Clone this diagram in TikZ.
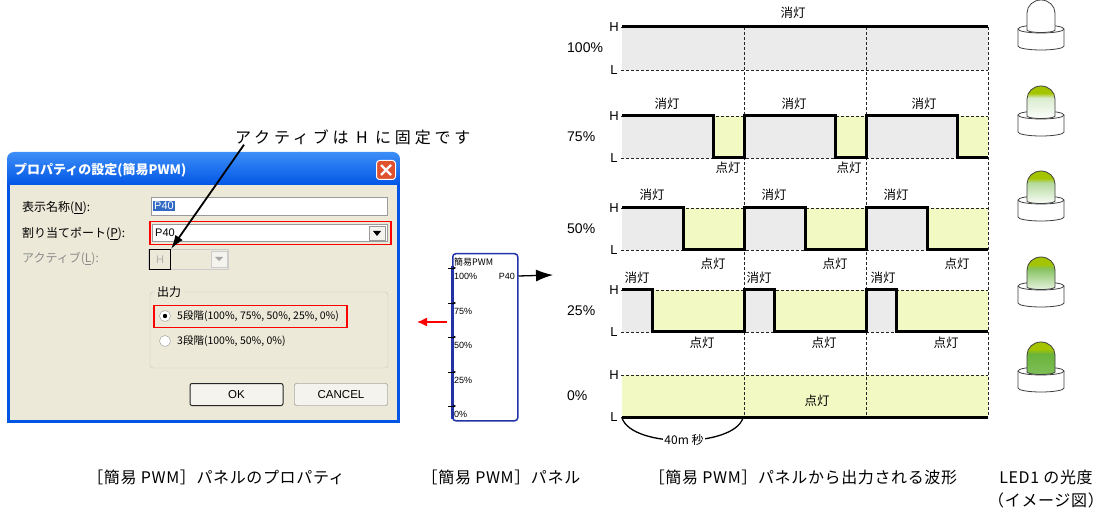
\documentclass[tikz,border=0pt]{standalone}
\usepackage{fontspec}
\setmainfont{Noto Sans CJK JP}
\newfontfamily\lat{Liberation Sans}
\usetikzlibrary{arrows.meta}

\definecolor{xpframe}{HTML}{0055E5}
\definecolor{xptop}{HTML}{3D8EF7}
\definecolor{xpbeige}{HTML}{ECE9D8}
\definecolor{xpred}{HTML}{E0522E}
\definecolor{fieldgrey}{HTML}{9A9A9A}
\definecolor{selblue}{HTML}{316AC5}
\definecolor{groupgrey}{HTML}{C8C6B4}
\definecolor{btnface}{HTML}{F4F3EE}
\definecolor{panelblue}{HTML}{2233A8}
\definecolor{offgrey}{HTML}{EBEBEB}
\definecolor{onyellow}{HTML}{F3F9C3}
\definecolor{capgreen}{HTML}{A4C400}
\definecolor{ledgreen}{HTML}{6AB43C}
\definecolor{ledline}{HTML}{404040}

\tikzset{
  dlg/.style={anchor=west, inner sep=0pt, font=\fontsize{12}{14}\selectfont},
  field/.style={draw=fieldgrey, fill=white, inner sep=0pt, anchor=north west},
  dlgbtn/.style={draw=black!55, fill=btnface, rounded corners=2pt, minimum width=93pt,
    minimum height=22pt, inner sep=0pt, font=\lat\fontsize{11.5}{12}\selectfont},
  pinlbl/.style={anchor=west, inner sep=0pt, font=\lat\fontsize{9}{10}\selectfont},
  pinmark/.style={-{Stealth[length=3pt,width=3pt]}, line width=0.8pt},
  hl/.style={inner sep=0pt, font=\lat\fontsize{13}{14}\selectfont},
  pct/.style={anchor=west, inner sep=0pt, font=\lat\fontsize{14}{16}\selectfont},
  wl/.style={inner sep=0pt, font=\fontsize{12.5}{14}\selectfont},
  guide/.style={line width=0.8pt, black!85, dash pattern=on 3pt off 2pt},
  wave/.style={line width=3pt, miter limit=4},
  captext/.style={inner sep=0pt, font=\fontsize{16}{18}\selectfont\addfontfeature{LetterSpace=4}},
}

% one LED lamp: top offset, cap colour, upper body colour, lower body colour
\newcommand\ledlamp[4]{%
  \begin{scope}[shift={(0,#1)}]
    \path[draw=ledline, fill=white, line width=0.8pt] (1018,29) -- (1018,46)
      arc[start angle=180, end angle=360, x radius=23pt, y radius=4pt] -- (1064,29)
      arc[start angle=0, end angle=180, x radius=23pt, y radius=4pt] -- cycle;
    \draw[ledline, line width=0.8pt] (1018,29)
      arc[start angle=180, end angle=360, x radius=23pt, y radius=4pt];
    \begin{scope}
      \clip (1027,30) -- (1027,13)
        arc[start angle=180, end angle=0, x radius=14pt, y radius=13pt] -- (1055,30)
        arc[start angle=360, end angle=180, x radius=14pt, y radius=2.5pt] -- cycle;
      \fill[white] (1020,-2) rectangle (1062,36);
      \shade[top color=#3, bottom color=#4] (1020,12) rectangle (1062,34);
      \shade[top color=#2, bottom color=#3] (1020,7) rectangle (1062,12);
      \fill[#2] (1020,-2) rectangle (1062,7);
    \end{scope}
    \draw[ledline, line width=0.8pt] (1027,30) -- (1027,13)
      arc[start angle=180, end angle=0, x radius=14pt, y radius=13pt] -- (1055,30)
      arc[start angle=360, end angle=180, x radius=14pt, y radius=2.5pt] -- cycle;
  \end{scope}}

\begin{document}
\begin{tikzpicture}[x=1pt,y=-1pt]
\useasboundingbox[fill=white] (0,0) rectangle (1104,513);

% ===== property dialog =====
\begin{scope}
  \clip[rounded corners=7pt] (7,152) rectangle (400,200);
  \shade[top color=xptop, bottom color=xpframe] (7,152) rectangle (400,186);
\end{scope}
\fill[xpframe] (7,185) rectangle (400,423);
\fill[xpbeige] (10,185) rectangle (397,420);

\node[anchor=west, inner sep=0pt, text=white, font=\bfseries\fontsize{13}{15}\selectfont]
  (dlgtitle) at (14,170) {プロパティの設定(簡易PWM)};
\node[draw=white, line width=1pt, fill=xpred, rounded corners=3pt, minimum width=19pt,
  minimum height=19pt, inner sep=0pt] (closebtn) at (386,170) {};
\draw[white, line width=2.2pt] (381,165) -- (391,175) (391,165) -- (381,175);

\node[dlg] (lblname) at (22,208) {表示名称(\underline{N}):};
\node[dlg] (lblport) at (22,234) {割り当てポート(\underline{P}):};
\node[dlg, text=black!45] (lblact) at (22,259) {アクティブ(\underline{L}):};

% display name field
\node[field, minimum width=236pt, minimum height=18pt] (fname) at (151,197) {};
\node[anchor=west, fill=selblue, text=white, inner sep=1pt,
  font=\lat\fontsize{11}{12}\selectfont] (fnamesel) at (153,206) {P40};

% port combo
\node[draw=red, line width=1.5pt, anchor=north west, minimum width=241pt,
  minimum height=23pt, inner sep=0pt] (portbox) at (149,221) {};
\node[field, minimum width=235pt, minimum height=17pt] (portfield) at (152,224) {};
\node[anchor=west, inner sep=0pt, font=\lat\fontsize{11}{12}\selectfont] (portval) at (155,233) {P40};
\node[draw=black!40, fill=btnface, minimum width=16pt, minimum height=14pt, inner sep=0pt]
  (portdrop) at (377,233) {};
\fill (373,231) -- (381,231) -- (377,236) -- cycle;

% active combo (disabled)
\node[draw=black!20, fill=xpbeige, anchor=north west, minimum width=80pt,
  minimum height=20pt, inner sep=0pt] (actcombo) at (148,249) {};
\node[draw=black!20, fill=btnface, minimum width=16pt, minimum height=16pt, inner sep=0pt]
  (actdrop) at (219,259) {};
\fill[black!35] (215,257) -- (223,257) -- (219,261) -- cycle;
\node[draw=black, line width=1pt, anchor=north west, minimum width=21pt, minimum height=20pt,
  inner sep=0pt, text=black!30, font=\lat\fontsize{11}{12}\selectfont] (actval) at (149,249) {H};

% output group
\draw[groupgrey, rounded corners=3pt] (150,292) rectangle (388,368);
\node[fill=xpbeige, anchor=west, inner sep=2pt, font=\fontsize{12}{14}\selectfont] (grplbl) at (155,292) {出力};
\node[draw=red, line width=1.5pt, anchor=north west, minimum width=193pt,
  minimum height=22pt, inner sep=0pt] (optsel) at (153,305) {};
\node[circle, draw=black!40, fill=white, minimum size=11pt, inner sep=0pt] (rad5) at (165,316) {};
\fill (rad5.center) circle (2.2pt);
\node[dlg, font=\fontsize{10.5}{12}\selectfont] (opt5) at (177,316) {5段階(100\%, 75\%, 50\%, 25\%, 0\%)};
\node[circle, draw=black!40, fill=white, minimum size=11pt, inner sep=0pt] (rad3) at (165,341) {};
\node[dlg, font=\fontsize{10.5}{12}\selectfont] (opt3) at (177,341) {3段階(100\%, 50\%, 0\%)};

\node[dlgbtn, draw=black!85, line width=1pt] (okbtn) at (236.5,394.5) {OK};
\node[dlgbtn] (cancelbtn) at (341,394.5) {CANCEL};

% callout
\node[anchor=west, inner sep=0pt, font=\fontsize{16}{18}\selectfont\addfontfeature{LetterSpace=24}]
  (note) at (235,137) {アクティブは H に固定です};
\draw[line width=1.8pt, -{Latex[length=14pt,width=9pt]}] ([xshift=9pt]note.south west) -- (actval.north east);

% ===== PWM panel =====
\node[draw=panelblue, line width=1.5pt, rounded corners=3pt, anchor=north west,
  minimum width=65pt, minimum height=167pt, inner sep=0pt] (panel) at (452,253) {};
\draw[panelblue, line width=3pt] (452,266) -- (452,419);
\node[pinlbl, font=\fontsize{9}{10}\selectfont] (ptitle) at (454,262) {簡易PWM};
\foreach \n/\t/\yy in {p100/100\%/276, p75/75\%/311, p50/50\%/345, p25/25\%/380, p0/0\%/414} {
  \node[pinlbl] (\n) at (454,\yy) {\t};
  \draw[pinmark] (448,\yy-8) -- (456,\yy-8);
}
\node[anchor=east, inner sep=0pt, font=\lat\fontsize{9}{10}\selectfont] (pout) at (515,276) {P40};
\coordinate (pwmout) at (553,275);
\draw[line width=1.3pt, -{Latex[length=17pt,width=12pt]}] (panel.east |- pout) -- (pwmout);
\coordinate (redfrom) at (447,322);
\coordinate (redto) at (417,322);
\draw[red, line width=1.3pt, -{Latex[length=10pt,width=9pt]}] (redfrom) -- (redto);

% ===== waveforms (period 122) =====
% fills
\fill[offgrey] (622,27) rectangle (988,70);
\foreach \a/\b in {622/713.5, 744/835.5, 866/957.5} { \fill[offgrey] (\a,116) rectangle (\b,158); }
\foreach \a/\b in {713.5/744, 835.5/866, 957.5/988} { \fill[onyellow] (\a,116) rectangle (\b,158); }
\foreach \a/\b in {622/683, 744/805, 866/927} { \fill[offgrey] (\a,208) rectangle (\b,250); }
\foreach \a/\b in {683/744, 805/866, 927/988} { \fill[onyellow] (\a,208) rectangle (\b,250); }
\foreach \a/\b in {622/652.5, 744/774.5, 866/896.5} { \fill[offgrey] (\a,290) rectangle (\b,332); }
\foreach \a/\b in {652.5/744, 774.5/866, 896.5/988} { \fill[onyellow] (\a,290) rectangle (\b,332); }
\fill[onyellow] (622,375) rectangle (988,417);

% level guides and labels
\foreach \r/\h/\l/\p/\pl in {a/27/70/100\%/48, b/116/158/75\%/137, c/208/250/50\%/229, d/290/332/25\%/311, e/375/417/0\%/396} {
  \draw[guide] (621,\h) -- (988,\h);
  \draw[guide] (621,\l) -- (988,\l);
  \node[hl] (H\r) at (614,\h) {H};
  \node[hl] (L\r) at (614,\l) {L};
  \node[pct] (pct\r) at (567,\pl) {\p};
}
\foreach \x in {744,866,988} { \draw[guide] (\x,27) -- (\x,417); }

% signal traces
\draw[wave] (622,27) -- (988,27);
\draw[wave] (622,116) -- (713.5,116) -- (713.5,158) -- (744,158) -- (744,116) -- (835.5,116)
  -- (835.5,158) -- (866,158) -- (866,116) -- (957.5,116) -- (957.5,158) -- (988,158);
\draw[wave] (622,208) -- (683,208) -- (683,250) -- (744,250) -- (744,208) -- (805,208)
  -- (805,250) -- (866,250) -- (866,208) -- (927,208) -- (927,250) -- (988,250);
\draw[wave] (622,290) -- (652.5,290) -- (652.5,332) -- (744,332) -- (744,290) -- (774.5,290)
  -- (774.5,332) -- (866,332) -- (866,290) -- (896.5,290) -- (896.5,332) -- (988,332);
\draw[wave] (622,417) -- (988,417);

% state labels
\node[wl] (offa) at (793,13) {消灯};
\foreach \x [count=\i] in {667,794,924} { \node[wl] (offb\i) at (\x,104) {消灯}; }
\foreach \x [count=\i] in {728,849} { \node[wl] (onb\i) at (\x,168) {点灯}; }
\foreach \x [count=\i] in {652,774,896} { \node[wl] (offc\i) at (\x,195) {消灯}; }
\foreach \x [count=\i] in {713,835,957} { \node[wl] (onc\i) at (\x,264) {点灯}; }
\foreach \x [count=\i] in {637,759,883} { \node[wl] (offd\i) at (\x,278) {消灯}; }
\foreach \x [count=\i] in {702,824,946} { \node[wl] (ond\i) at (\x,343) {点灯}; }
\node[wl] (one) at (817,401) {点灯};

% period marker
\draw[line width=1.3pt] (622,418) .. controls (632,448) and (733,448) .. (743,418);
\node[fill=white, inner sep=1pt, font=\fontsize{12}{14}\selectfont] (period) at (684,440) {40m 秒};

% ===== LED lamps =====
\ledlamp{0}{white}{white}{white}
\ledlamp{86}{capgreen}{ledgreen!25!white}{white}
\ledlamp{171}{capgreen}{ledgreen!50!white}{white}
\ledlamp{257}{capgreen}{ledgreen!80!white}{ledgreen!12!white}
\ledlamp{342}{capgreen}{ledgreen}{ledgreen!85!white}

% ===== captions =====
\node[captext] (capdlg) at (216,477) {［簡易 PWM］パネルのプロパティ};
\node[captext] (cappanel) at (501,477) {［簡易 PWM］パネル};
\node[captext] (capwave) at (803,477) {［簡易 PWM］パネルから出力される波形};
\node[captext] (capled) at (1046,477) {LED1 の光度};
\node[captext] (capled2) at (1046,500) {（イメージ図）};
\end{tikzpicture}
\end{document}
